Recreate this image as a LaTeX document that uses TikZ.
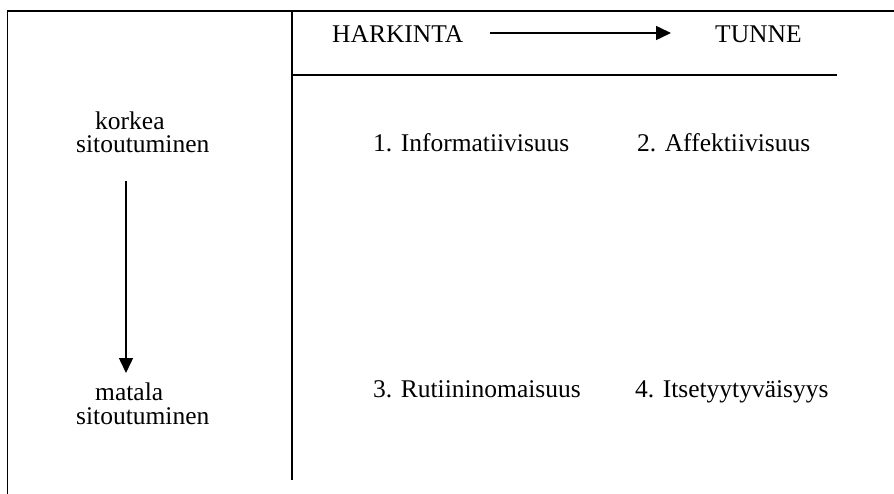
\documentclass[tikz,border=0pt]{standalone}
\usepackage{fontspec}
\setmainfont{Liberation Serif}
\usetikzlibrary{arrows.meta}
\begin{document}
\begin{tikzpicture}[x=1pt,y=-1pt,
  frame/.style={line width=1.7pt},
  rule/.style={line width=1.5pt},
  lbl/.style={anchor=base west,inner sep=0pt,font=\fontsize{25.5}{30}\selectfont},
  arr/.style={line width=1.5pt,-{Triangle[length=15pt,width=14pt]}}]
\useasboundingbox (0,0) rectangle (894,494);
% frame
\coordinate (tl) at (7.5,11);
\coordinate (tr) at (894,11);
\coordinate (bl) at (7.5,494);
\draw[frame] (bl) -- (tl) -- (tr);
\coordinate (dt) at (292,11);
\coordinate (db) at (292,480);
\draw[frame] (dt) -- (db);
\coordinate (hl) at (292,75);
\coordinate (hr) at (837,75);
\draw[rule] (hl) -- (hr);
% header
\node[lbl] (hark) at (332,43) {HARKINTA};
\node[lbl] (tunne) at (715,43) {TUNNE};
\coordinate (ha) at (490,33);
\coordinate (hb) at (671,33);
\draw[arr] (ha) -- (hb);
% left
\node[lbl] (korkea) at (95,129.5) {korkea};
\node[lbl] (sit1) at (76,153) {sitoutuminen};
\node[lbl] (matala) at (95,400.5) {matala};
\node[lbl] (sit2) at (76,424) {sitoutuminen};
\coordinate (va) at (126,181);
\coordinate (vb) at (126,373);
\draw[arr] (va) -- (vb);
% cells
\node[lbl] (c1) at (373,152) {1. Informatiivisuus};
\node[lbl] (c2) at (637,152) {2. Affektiivisuus};
\node[lbl] (c3) at (373,397) {3. Rutiininomaisuus};
\node[lbl] (c4) at (635,397) {4. Itsetyytyväisyys};
\end{tikzpicture}
\end{document}
